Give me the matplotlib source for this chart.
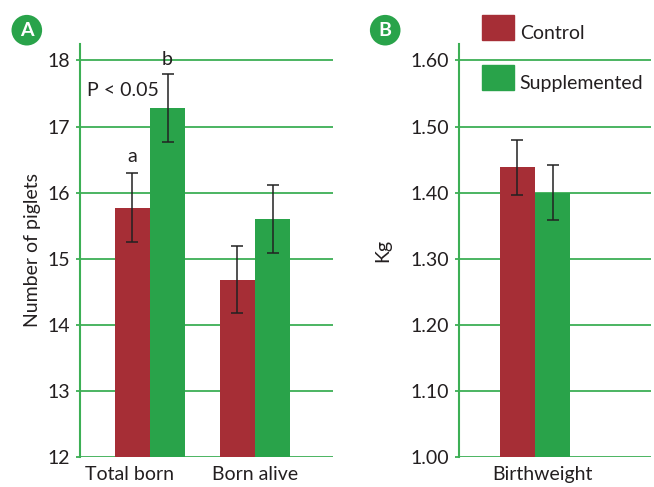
import numpy as np
import matplotlib
matplotlib.use("Agg")
import matplotlib.pyplot as plt
from matplotlib.patches import Patch

plt.rcParams['font.family'] = ['Lato', 'DejaVu Sans']
plt.rcParams['font.size'] = 14

# litter size
litter_groups = ['Total born', 'Born alive']
litter_control = [15.77, 14.68]
litter_control_err = [0.52, 0.51]
litter_supp = [17.28, 15.60]
litter_supp_err = [0.51, 0.51]

# piglet weight
weight_groups = ['Birthweight']
weight_control = [1.438]
weight_control_err = [0.042]
weight_supp = [1.400]
weight_supp_err = [0.042]

red = '#a62e36'
green = '#29a34a'
grid_green = '#3daf55'
text_col = '#231f20'

fig = plt.figure(figsize=(6.54, 4.87), dpi=100)
axA = fig.add_axes([0.1223, 0.0622, 0.387, 0.8475])
axB = fig.add_axes([0.7018, 0.0622, 0.2936, 0.8475])

w = 0.335


def style(ax):
    for s in ['top', 'right', 'bottom']:
        ax.spines[s].set_visible(False)
    ax.spines['left'].set_color(grid_green)
    ax.spines['left'].set_linewidth(1.5)
    ax.yaxis.grid(True, color=grid_green, linewidth=1.3)
    ax.set_axisbelow(True)
    ax.tick_params(axis='y', length=3, color=grid_green, width=1.3,
                   labelcolor=text_col, pad=4)
    ax.tick_params(axis='x', length=0, labelcolor=text_col, pad=7)


x = np.arange(len(litter_groups))
axA.bar(x - w / 2, np.array(litter_control) - 12, w, bottom=12, color=red, zorder=2)
axA.bar(x + w / 2, np.array(litter_supp) - 12, w, bottom=12, color=green, zorder=2)
axA.errorbar(x - w / 2, litter_control, yerr=litter_control_err, fmt='none',
             ecolor='#222222', elinewidth=1.1, capsize=4, capthick=1.1, zorder=3)
axA.errorbar(x + w / 2, litter_supp, yerr=litter_supp_err, fmt='none',
             ecolor='#222222', elinewidth=1.1, capsize=4, capthick=1.1, zorder=3)
axA.set_ylim(12, 18.25)
axA.set_yticks(range(12, 19))
axA.set_xlim(-0.667, 1.743)
axA.set_xticks(x + np.array([-0.2, 0.0]))
axA.set_xticklabels(litter_groups)
axA.set_ylabel('Number of piglets', color=text_col, labelpad=5)
style(axA)

axA.text(x[0] - w / 2, litter_control[0] + litter_control_err[0] + 0.12, 'a',
         ha='center', va='bottom', color=text_col)
axA.text(x[0] + w / 2, litter_supp[0] + litter_supp_err[0] + 0.1, 'b',
         ha='center', va='bottom', color=text_col)
axA.text(-0.26, 17.55, 'P < 0.05', ha='center', va='center', color=text_col)

xb = np.arange(len(weight_groups))
axB.bar(xb - w / 2, np.array(weight_control) - 1, w, bottom=1, color=red, zorder=2)
axB.bar(xb + w / 2, np.array(weight_supp) - 1, w, bottom=1, color=green, zorder=2)
axB.errorbar(xb - w / 2, weight_control, yerr=weight_control_err, fmt='none',
             ecolor='#222222', elinewidth=1.1, capsize=4, capthick=1.1, zorder=3)
axB.errorbar(xb + w / 2, weight_supp, yerr=weight_supp_err, fmt='none',
             ecolor='#222222', elinewidth=1.1, capsize=4, capthick=1.1, zorder=3)
axB.set_ylim(1.0, 1.625)
axB.set_yticks(np.arange(1.0, 1.61, 0.1))
axB.set_yticklabels(['%.2f' % v for v in np.arange(1.0, 1.61, 0.1)])
axB.set_xlim(-0.724, 1.105)
axB.set_xticks(xb + 0.07)
axB.set_xticklabels(weight_groups)
axB.set_ylabel('Kg', color=text_col, labelpad=14)
style(axB)

handles = [Patch(color=red, label='Control'), Patch(color=green, label='Supplemented')]
leg = fig.legend(handles=handles, loc='upper left', bbox_to_anchor=(0.722, 0.99),
                 frameon=False, handlelength=1.65, handleheight=1.65, borderpad=0,
                 labelspacing=1.25, handletextpad=0.3, labelcolor=text_col)
for t in leg.get_texts():
    t.set_y(-5)

# panel badges
for px, py, lab in [(0.041, 0.938, 'A'), (0.589, 0.938, 'B')]:
    fig.text(px, py, lab, ha='center', va='center', color='white',
             fontsize=14, fontweight='bold',
             bbox=dict(boxstyle='circle,pad=0.35', fc=green, ec='none'))

fig.savefig('out.png', dpi=100)
